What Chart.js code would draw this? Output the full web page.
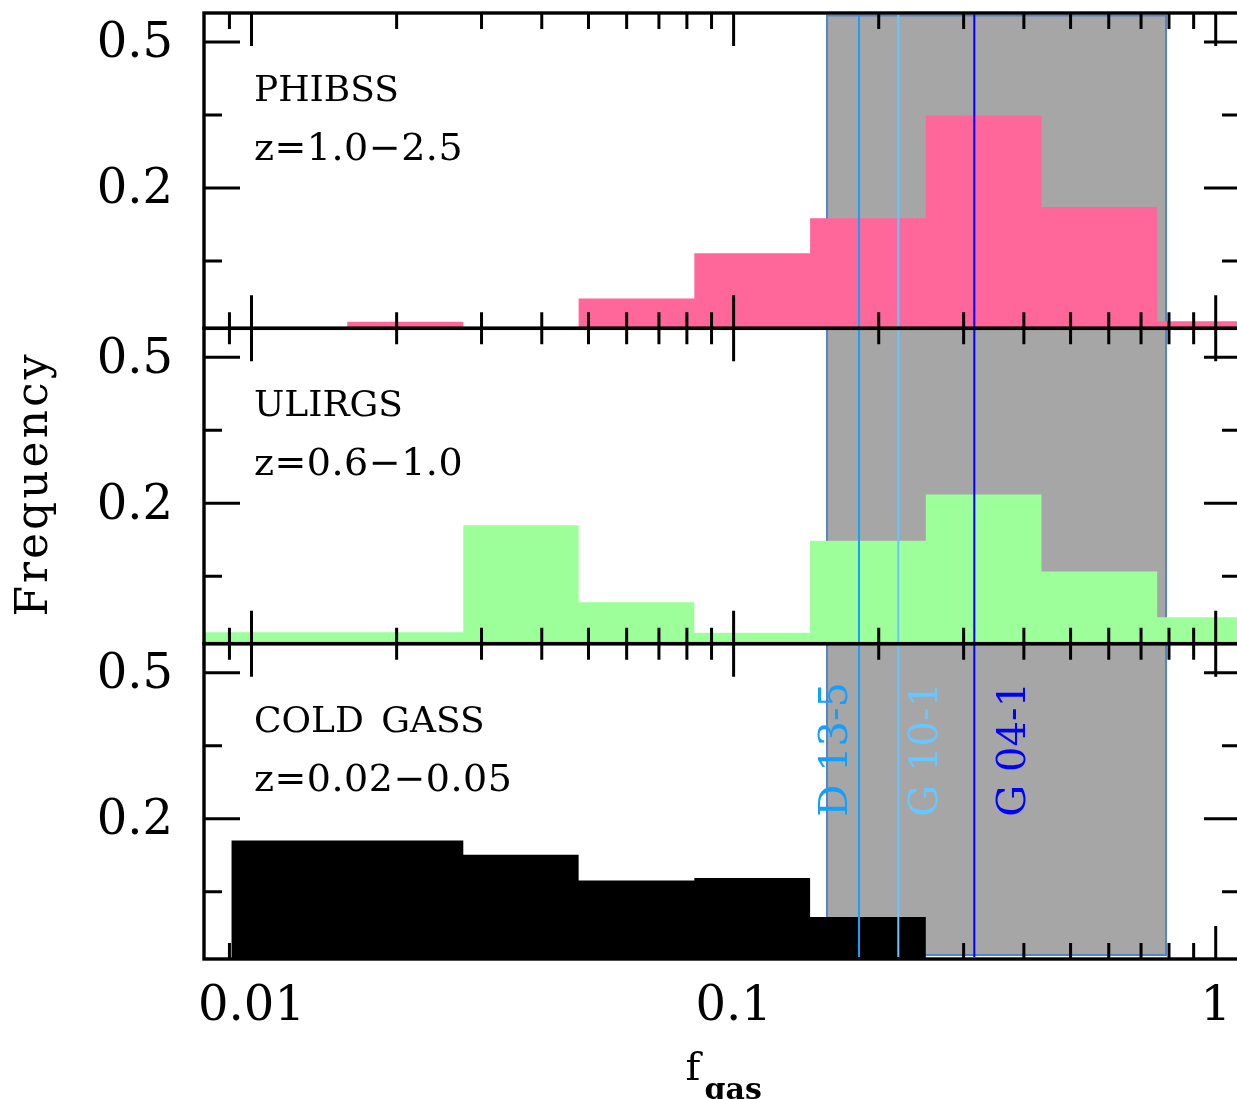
<!DOCTYPE html>
<html>
<head>
<meta charset="utf-8">
<title>Gas fraction distributions</title>
<script src="https://cdn.jsdelivr.net/npm/chart.js@4.4.1/dist/chart.umd.min.js"></script>
<style>
    html, body { margin: 0; padding: 0; background: #fff; overflow: hidden; }
    #wrap { width: 1237px; height: 1099px; overflow: hidden; }
    canvas { display: block; }
</style>
</head>
<body>
<div id="wrap"><canvas id="fgas_chart" width="1240" height="1099"></canvas></div>
<script>
"use strict";

// Histogram bin edges in f_gas (0.24 dex bins)
const binEdges = [0.00523, 0.00909, 0.0158, 0.0275, 0.0477, 0.0829, 0.1441, 0.2504, 0.4351, 0.7561, 1.314];

// Frequency per bin, null where a bin is empty
const phibssFreq = [null, null, -0.075, null, -0.027, 0.066, 0.138, 0.349, 0.161, -0.074];
const ulirgsFreq = [-0.065, -0.065, -0.065, 0.155, -0.003, -0.066, 0.123, 0.218, 0.060, -0.034];
const coldGassFreq = [null, 0.155, 0.155, 0.126, 0.073, 0.078, -0.002, null, null, null];

// Sample names and redshift ranges, top panel first
const panelNames = ['PHIBSS', 'ULIRGS', 'COLD GASS'];
const panelRedshifts = ['z=1.0\u22122.5', 'z=0.6\u22121.0', 'z=0.02\u22120.05'];

// Individual galaxies marked with vertical lines
const galaxyNames = ['D 13-5', 'G 10-1', 'G 04-1'];
const galaxyFgas = [0.182, 0.2196, 0.3157];

// Shaded f_gas range
const bandRange = [0.1562, 0.7887];

// Axis ticks
const xTickValues = [0.01, 0.1, 1];
const xTickLabels = ['0.01', '0.1', '1'];
const xMinorTicks = [0.009, 0.02, 0.03, 0.04, 0.05, 0.06, 0.07, 0.08, 0.09, 0.2, 0.3, 0.4, 0.5, 0.6, 0.7, 0.8, 0.9];
const yTickValues = [0.2, 0.5];
const yTickLabels = ['0.2', '0.5'];
const yMinorTicks = [0.05, 0.35];

// Axis ranges
const X_MIN = 0.00797, X_MAX = 1.123;
const Y_MIN = -0.0883, Y_MAX = 0.5596;
const BAND_TOP = 0.9974, BAND_BOTTOM = 0.0042;

var KTGasFraction = function () {
    var fontFamily = "'DejaVu Serif', serif";
    var panelAxes = ['yPhibss', 'yUlirgs', 'yCold'];

    // Colors
    var phibssColor = '#ff6699';
    var ulirgsColor = '#9cff9a';
    var coldGassColor = '#000000';
    var bandColor = '#a6a6a6';
    var bandEdgeColor = '#5585c8';
    var galaxyColors = ['#12a0ff', '#66c8ff', '#0000ff'];
    var galaxyLabelShift = [-12, 39, 51];

    // Step outline of a histogram, empty bins sit on the axis floor
    function stepPoints(freq) {
        var pts = [];
        for (var i = 0; i < freq.length; i++) {
            pts.push({ x: binEdges[i], y: freq[i] === null ? Y_MIN : freq[i] });
        }
        pts.push({ x: binEdges[freq.length], y: pts[pts.length - 1].y });
        return pts;
    }

    function histDataset(label, freq, color, axisId) {
        return {
            label: label,
            data: stepPoints(freq),
            yAxisID: axisId,
            stepped: 'before',
            fill: 'start',
            backgroundColor: color,
            borderColor: 'rgba(0,0,0,0)',
            borderWidth: 0,
            pointRadius: 0,
            order: 2
        };
    }

    function panelAxis(weight) {
        return {
            type: 'linear',
            position: 'left',
            stack: 'panels',
            stackWeight: 1,
            weight: weight,
            min: Y_MIN,
            max: Y_MAX,
            grid: { display: false, drawTicks: false },
            border: { display: false },
            afterBuildTicks: function (scale) {
                scale.ticks = yTickValues.map(function (v) { return { value: v }; });
            },
            afterFit: function (scale) {
                scale.width = 204;
                scale.paddingTop = 0;
                scale.paddingBottom = 0;
            },
            ticks: {
                padding: 31,
                labelOffset: 3,
                color: '#000',
                font: { family: fontFamily, size: 48 },
                callback: function (value, index) { return yTickLabels[index]; }
            }
        };
    }

    // Frame, tick marks and panel text
    var panelDecor = {
        id: 'panelDecor',
        afterDatasetsDraw: function (chart) {
            var ctx = chart.ctx;
            var area = chart.chartArea;
            var xScale = chart.scales.x;

            ctx.save();

            // Sample names and redshifts
            ctx.fillStyle = '#000';
            ctx.textAlign = 'left';
            ctx.textBaseline = 'alphabetic';
            panelAxes.forEach(function (id, i) {
                var s = chart.scales[id];
                ctx.font = '36px ' + fontFamily;
                ctx.letterSpacing = '0px';
                ctx.wordSpacing = '6px';
                ctx.fillText(panelNames[i], area.left + 50, s.top + 88);
                ctx.font = '38px ' + fontFamily;
                ctx.wordSpacing = '0px';
                ctx.letterSpacing = '0.5px';
                ctx.fillText(panelRedshifts[i], area.left + 50, s.top + 147);
            });
            ctx.letterSpacing = '0px';

            // Galaxy names next to their lines
            var labelBase = chart.scales.yCold.getPixelForValue(0.2) - 2;
            ctx.font = '40px ' + fontFamily;
            galaxyNames.forEach(function (name, i) {
                var px = xScale.getPixelForValue(galaxyFgas[i]) + galaxyLabelShift[i];
                ctx.save();
                ctx.translate(px, labelBase);
                ctx.rotate(-Math.PI / 2);
                ctx.fillStyle = galaxyColors[i];
                ctx.fillText(name, 0, 0);
                ctx.restore();
            });

            // Panel frames with inward ticks on all sides
            ctx.strokeStyle = '#000';
            panelAxes.forEach(function (id) {
                var s = chart.scales[id];
                ctx.lineWidth = 3.4;
                ctx.strokeRect(area.left, s.top, area.right - area.left, s.bottom - s.top);
                ctx.lineWidth = 3;
                ctx.beginPath();
                var yTick = function (v, len) {
                    var py = s.getPixelForValue(v);
                    ctx.moveTo(area.left, py);
                    ctx.lineTo(area.left + len, py);
                    ctx.moveTo(area.right, py);
                    ctx.lineTo(area.right - len, py);
                };
                var xTick = function (v, len) {
                    var px = xScale.getPixelForValue(v);
                    ctx.moveTo(px, s.bottom);
                    ctx.lineTo(px, s.bottom - len);
                    ctx.moveTo(px, s.top);
                    ctx.lineTo(px, s.top + len);
                };
                yTickValues.forEach(function (v) { yTick(v, 36); });
                yMinorTicks.forEach(function (v) { yTick(v, 18); });
                xTickValues.forEach(function (v) { xTick(v, 33); });
                xMinorTicks.forEach(function (v) { xTick(v, 16); });
                ctx.stroke();
            });

            ctx.restore();
        },
        afterDraw: function (chart) {
            var ctx = chart.ctx;
            var area = chart.chartArea;
            var xScale = chart.scales.x;

            ctx.save();
            ctx.fillStyle = '#000';
            ctx.textBaseline = 'alphabetic';

            // y title
            ctx.font = '44px ' + fontFamily;
            ctx.letterSpacing = '3px';
            ctx.textAlign = 'center';
            ctx.translate(47, (area.top + area.bottom) / 2 - 2);
            ctx.rotate(-Math.PI / 2);
            ctx.fillText('Frequency', 0, 0);
            ctx.restore();

            // x title with subscript
            ctx.save();
            ctx.fillStyle = '#000';
            ctx.textAlign = 'left';
            ctx.textBaseline = 'alphabetic';
            var fx = xScale.getPixelForValue(0.1) - 48;
            ctx.font = '40px ' + fontFamily;
            ctx.fillText('f', fx, 1080);
            ctx.font = 'bold 30px ' + fontFamily;
            ctx.fillText('gas', fx + 19, 1099);
            ctx.restore();
        }
    };

    var initChart = function () {
        var ctx = document.getElementById('fgas_chart');

        // Vertical lines for the individual galaxies
        var galaxyLines = galaxyFgas.map(function (v, i) {
            return {
                label: galaxyNames[i],
                data: [{ x: v, y: BAND_BOTTOM - 0.002 }, { x: v, y: BAND_TOP + 0.001 }],
                yAxisID: 'yBand',
                borderColor: galaxyColors[i],
                borderWidth: 2,
                pointRadius: 0,
                fill: false,
                order: 1
            };
        });

        const data = {
            datasets: galaxyLines.concat([
                histDataset('PHIBSS', phibssFreq, phibssColor, 'yPhibss'),
                histDataset('ULIRGS', ulirgsFreq, ulirgsColor, 'yUlirgs'),
                histDataset('COLD GASS', coldGassFreq, coldGassColor, 'yCold'),
                {
                    label: 'range edge',
                    data: [
                        { x: bandRange[0], y: BAND_BOTTOM },
                        { x: bandRange[0], y: BAND_TOP },
                        { x: bandRange[1], y: BAND_TOP },
                        { x: bandRange[1], y: BAND_BOTTOM },
                        { x: bandRange[0], y: BAND_BOTTOM }
                    ],
                    yAxisID: 'yBand',
                    borderColor: bandEdgeColor,
                    borderWidth: 2,
                    pointRadius: 0,
                    fill: false,
                    order: 3
                },
                {
                    label: 'range',
                    data: [{ x: bandRange[0], y: BAND_TOP }, { x: bandRange[1], y: BAND_TOP }],
                    yAxisID: 'yBand',
                    fill: { value: BAND_BOTTOM },
                    backgroundColor: bandColor,
                    borderColor: 'rgba(0,0,0,0)',
                    borderWidth: 0,
                    pointRadius: 0,
                    order: 4
                }
            ])
        };

        const config = {
            type: 'line',
            data: data,
            options: {
                responsive: false,
                animation: false,
                devicePixelRatio: 1,
                layout: { padding: { top: 13, left: 0, right: 0, bottom: 0 } },
                elements: { line: { tension: 0 } },
                plugins: {
                    legend: { display: false },
                    tooltip: { enabled: false },
                    title: { display: false }
                },
                scales: {
                    x: {
                        type: 'logarithmic',
                        position: 'bottom',
                        min: X_MIN,
                        max: X_MAX,
                        grid: { display: false, drawTicks: false },
                        border: { display: false },
                        afterBuildTicks: function (scale) {
                            scale.ticks = xTickValues.map(function (v) { return { value: v }; });
                        },
                        afterFit: function (scale) {
                            scale.height = 140;
                            scale.paddingLeft = 0;
                            scale.paddingRight = 0;
                        },
                        ticks: {
                            autoSkip: false,
                            maxRotation: 0,
                            padding: 20,
                            color: '#000',
                            font: { family: fontFamily, size: 48 },
                            callback: function (value, index) { return xTickLabels[index]; }
                        }
                    },
                    yCold: panelAxis(1),
                    yUlirgs: panelAxis(2),
                    yPhibss: panelAxis(3),
                    yBand: { type: 'linear', position: 'left', display: false, min: 0, max: 1 }
                }
            },
            plugins: [panelDecor]
        };

        var myChart = new Chart(ctx, config);
    };

    return {
        init: function () {
            initChart();
        }
    };
}();

document.addEventListener('DOMContentLoaded', function () {
    KTGasFraction.init();
});
</script>
</body>
</html>
